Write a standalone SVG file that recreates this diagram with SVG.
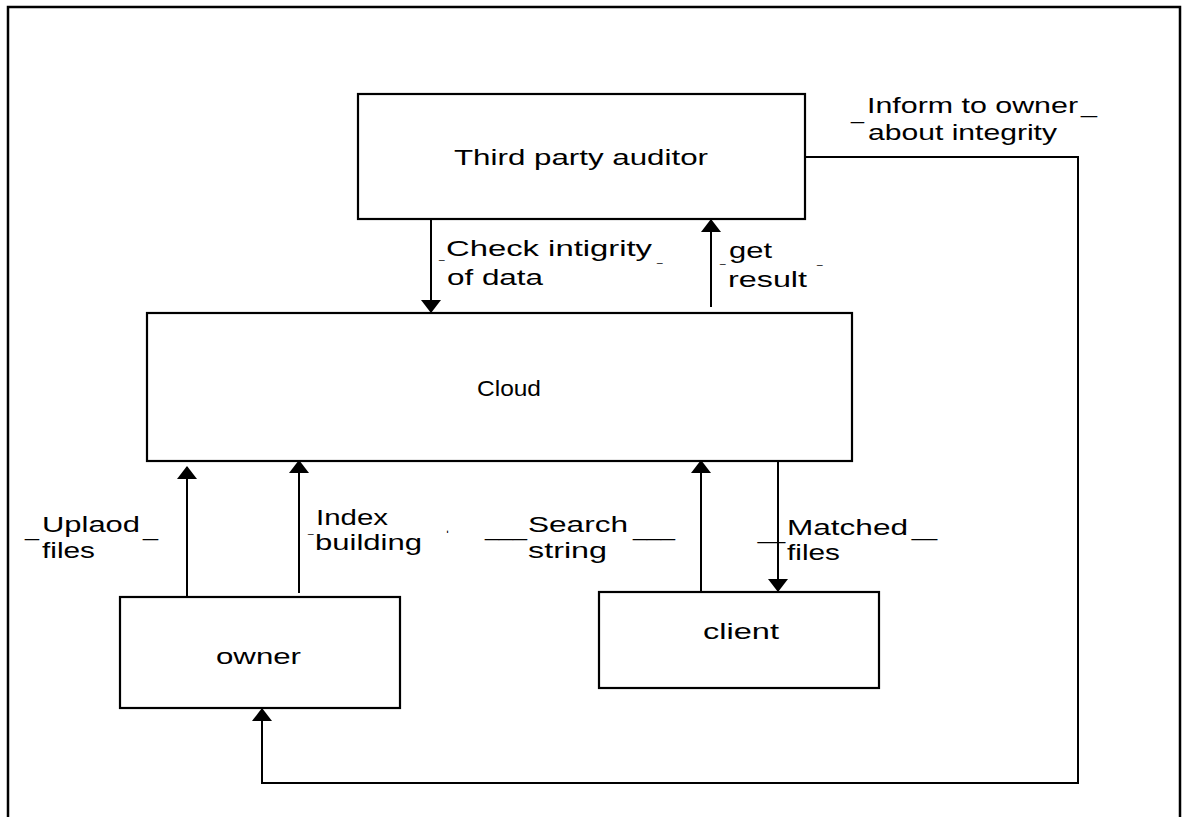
<svg xmlns="http://www.w3.org/2000/svg" width="1185" height="817" viewBox="0 0 1185 817">
<style>
.box{fill:#fff;stroke:#000;stroke-width:2.2}
.frame{fill:none;stroke:#000;stroke-width:2.5}
.con{fill:none;stroke:#000;stroke-width:2;marker-end:url(#ah)}
text{font-family:"Liberation Sans",Arial,sans-serif;font-size:22px;fill:#000}
text.sm{font-size:10px}
</style>
<defs>
<marker id="ah" viewBox="0 0 13 20" refX="12" refY="10" markerWidth="13" markerHeight="20" markerUnits="userSpaceOnUse" orient="auto">
<path d="M0,0 L13,10 L0,20 z" fill="#000"/>
</marker>
</defs>
<rect width="1185" height="817" fill="#fff"/>
<path class="frame" d="M8,817 V7 H1180 V817"/>

<g id="connectors">
<line class="con" x1="431" y1="219" x2="431" y2="312"/>
<line class="con" x1="711" y1="307" x2="711" y2="220"/>
<line class="con" x1="187" y1="597" x2="187" y2="467"/>
<line class="con" x1="299" y1="593" x2="299" y2="461"/>
<line class="con" x1="701" y1="592" x2="701" y2="461"/>
<line class="con" x1="778" y1="461" x2="778" y2="591"/>
<polyline class="con" points="805,157 1078,157 1078,783 262,783 262,709"/>
</g>

<g id="node-tpa">
<rect class="box" x="358" y="94" width="447" height="125"/>
<text x="454" y="165" textLength="254" lengthAdjust="spacingAndGlyphs">Third party auditor</text>
</g>
<g id="node-cloud">
<rect class="box" x="147" y="313" width="705" height="148"/>
<text x="477" y="396" textLength="64" lengthAdjust="spacingAndGlyphs">Cloud</text>
</g>
<g id="node-owner">
<rect class="box" x="120" y="597" width="280" height="111"/>
<text x="216" y="664" textLength="85" lengthAdjust="spacingAndGlyphs">owner</text>
</g>
<g id="node-client">
<rect class="box" x="599" y="592" width="280" height="96"/>
<text x="703" y="639" textLength="76" lengthAdjust="spacingAndGlyphs">client</text>
</g>

<g id="labels">
<text x="851" y="119" textLength="13" lengthAdjust="spacingAndGlyphs">_</text>
<text x="867" y="113" textLength="211" lengthAdjust="spacingAndGlyphs">Inform to owner</text>
<text x="1081" y="113" textLength="16" lengthAdjust="spacingAndGlyphs">_</text>
<text x="868" y="140" textLength="189" lengthAdjust="spacingAndGlyphs">about integrity</text>

<text class="sm" x="439" y="259">_</text>
<text x="446" y="256" textLength="206" lengthAdjust="spacingAndGlyphs">Check intigrity</text>
<text class="sm" x="657" y="262">_</text>
<text x="447" y="285" textLength="96" lengthAdjust="spacingAndGlyphs">of data</text>

<text class="sm" x="720" y="263">_</text>
<text x="729" y="258" textLength="43" lengthAdjust="spacingAndGlyphs">get</text>
<text class="sm" x="817" y="264">_</text>
<text x="728" y="287" textLength="79" lengthAdjust="spacingAndGlyphs">result</text>

<text x="25" y="536" textLength="14" lengthAdjust="spacingAndGlyphs">_</text>
<text x="42" y="532" textLength="98" lengthAdjust="spacingAndGlyphs">Uplaod</text>
<text x="143" y="536" textLength="15" lengthAdjust="spacingAndGlyphs">_</text>
<text x="42" y="558" textLength="53" lengthAdjust="spacingAndGlyphs">files</text>

<text class="sm" x="308" y="533">_</text>
<text x="316" y="525" textLength="72" lengthAdjust="spacingAndGlyphs">Index</text>
<text x="315" y="550" textLength="107" lengthAdjust="spacingAndGlyphs">building</text>
<text x="446" y="533" textLength="3" lengthAdjust="spacingAndGlyphs">.</text>

<text x="485" y="536" textLength="42" lengthAdjust="spacingAndGlyphs">___</text>
<text x="528" y="532" textLength="100" lengthAdjust="spacingAndGlyphs">Search</text>
<text x="633" y="536" textLength="42" lengthAdjust="spacingAndGlyphs">___</text>
<text x="528" y="558" textLength="79" lengthAdjust="spacingAndGlyphs">string</text>

<text x="758" y="539" textLength="27" lengthAdjust="spacingAndGlyphs">_</text>
<text x="787" y="535" textLength="121" lengthAdjust="spacingAndGlyphs">Matched</text>
<text x="912" y="536" textLength="25" lengthAdjust="spacingAndGlyphs">_</text>
<text x="787" y="560" textLength="53" lengthAdjust="spacingAndGlyphs">files</text>
</g>
</svg>
